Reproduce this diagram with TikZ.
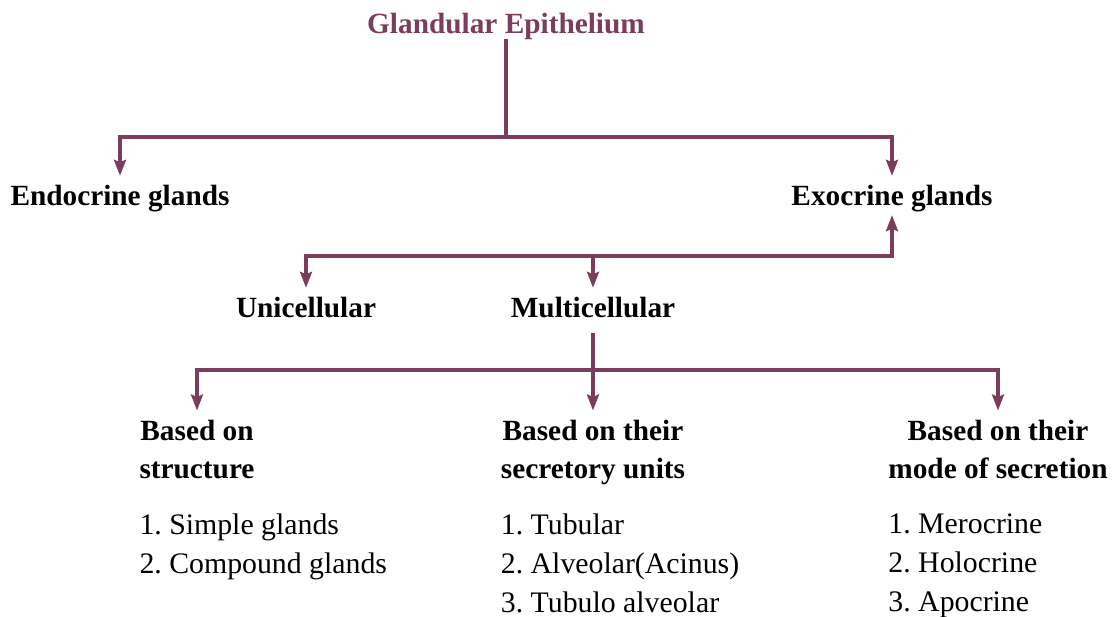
\documentclass[tikz,border=0pt]{standalone}
\usepackage{fontspec}
\setmainfont{Liberation Serif}
\usepackage{xcolor}
\usepackage{tikz}
\usetikzlibrary{positioning}
\usetikzlibrary{arrows.meta}

\definecolor{plum}{RGB}{124,60,94}
\newcommand{\chartfont}{\fontsize{29.3}{38.5}\selectfont\frenchspacing}
\newcommand{\listfont}{\fontsize{29.8}{39}\selectfont\frenchspacing}

\begin{document}
\begin{tikzpicture}[
    x=1pt, y=-1pt,
    font=\chartfont,
    >={Stealth[length=16pt, width=12pt, inset=2.5pt]},
    lbl/.style={inner sep=0pt, text height=20pt, text depth=6pt, font=\chartfont\bfseries, anchor=base},
    head/.style={inner sep=0pt, align=center, font=\chartfont\bfseries, anchor=north},
    items/.style={inner sep=0pt, align=left, font=\listfont},
    line/.style={draw=plum, line width=3.2pt},
    arr/.style={line, ->, shorten >=9pt}
]
\useasboundingbox (0,0) rectangle (1114,616);

\node[lbl, text=plum] (title) at (506,33) {Glandular Epithelium};
\node[lbl] (endo) at (120,205) {Endocrine glands};
\node[lbl] (exo) at (892,205) {Exocrine glands};
\node[lbl] (uni) at (306,317) {Unicellular};
\node[lbl] (multi) at (593,317) {Multicellular};

\node[head] (head1) at (197,419.5) {Based on\\structure};
\node[head] (head2) at (593,419.5) {Based on their\\secretory units};
\node[head] (head3) at (998,419.5) {Based on their\\mode of secretion};

\node[items] (list1) [below right=94pt and 0pt of head1.north west] {1. Simple glands\\2. Compound glands};
\node[items] (list2) [below right=94pt and 0pt of head2.north west] {1. Tubular\\2. Alveolar(Acinus)\\3. Tubulo alveolar};
\node[items] (list3) [below right=94pt and 0pt of head3.north west] {1. Merocrine\\2. Holocrine\\3. Apocrine};

\coordinate (split1) at (506,137);
\coordinate (split2) at (593,256);
\coordinate (split3) at (593,370);

\draw[line] (title.south) -- (split1);
\draw[arr] (split1) -| (endo.north);
\draw[arr] (split1) -| (exo.north);

\draw[arr, shorten >=4pt] (split2) -| (exo.south);
\draw[arr] (split2) -| (uni.north);
\draw[arr] (split2) -- (multi.north);

\draw[line, shorten <=10pt] (multi.south) -- (split3);
\draw[arr] (split3) -| (head1.north);
\draw[arr] (split3) -- (head2.north);
\draw[arr] (split3) -| (head3.north);

\end{tikzpicture}
\end{document}
